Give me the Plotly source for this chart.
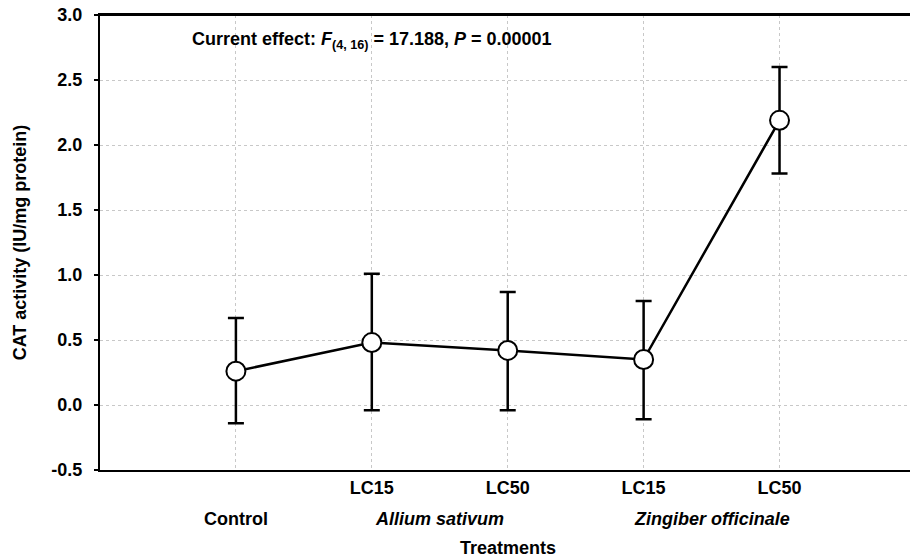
import plotly.graph_objects as go

positions = [1, 2, 3, 4, 5]
dose_positions = [2, 3, 4, 5]
dose_labels = ["LC15", "LC50", "LC15", "LC50"]
group_labels = ["Control", "<i>Allium sativum</i>", "<i>Zingiber officinale</i>"]
group_centers = [1, 2.5, 4.5]
means = [0.26, 0.48, 0.42, 0.35, 2.19]
upper = [0.67, 1.01, 0.87, 0.80, 2.60]
lower = [-0.14, -0.04, -0.04, -0.11, 1.78]
y_ticks = [-0.5, 0.0, 0.5, 1.0, 1.5, 2.0, 2.5, 3.0]
y_tick_text = ["-0.5", "0.0", "0.5", "1.0", "1.5", "2.0", "2.5", "3.0"]

err_plus = [u - m for u, m in zip(upper, means)]
err_minus = [m - l for m, l in zip(means, lower)]

FONT = "Liberation Sans, Arial, sans-serif"
GRID = "#c8c8c8"

fig = go.Figure()
fig.add_trace(go.Scatter(
    x=positions, y=means, mode="lines+markers",
    line=dict(color="black", width=2.5),
    marker=dict(symbol="circle", size=19, color="white",
                line=dict(color="black", width=2)),
    error_y=dict(type="data", symmetric=False, array=err_plus,
                 arrayminus=err_minus, color="black", thickness=2.5, width=8),
    showlegend=False,
    cliponaxis=False,
))

fig.update_layout(
    width=910, height=558,
    margin=dict(l=100, r=0, t=15, b=88),
    plot_bgcolor="white", paper_bgcolor="white",
    font=dict(family=FONT, color="black"),
    xaxis=dict(
        range=[0, 5.96], tickvals=dose_positions, ticktext=dose_labels,
        showgrid=True, gridcolor=GRID, griddash="dot", gridwidth=1,
        minor=dict(tickvals=[positions[0]], showgrid=True, gridcolor=GRID,
                   griddash="dot", gridwidth=1, ticks=""),
        showline=True, linecolor="black", linewidth=2, mirror=True,
        ticks="", zeroline=False, automargin=False,
        tickfont=dict(family=FONT, size=18, weight="bold", color="black"),
    ),
    yaxis=dict(
        range=[-0.5, 3.0], tickvals=y_ticks, ticktext=y_tick_text,
        showgrid=True, gridcolor=GRID, griddash="dot", gridwidth=1,
        showline=True, linecolor="black", linewidth=2,
        ticks="outside", ticklen=4, tickwidth=1.5, tickcolor="black",
        ticklabelstandoff=8, ticklabeloverflow="allow",
        zeroline=False, automargin=False,
        tickfont=dict(family=FONT, size=18, weight="bold", color="black"),
        title=dict(text="CAT activity (IU/mg protein)", standoff=20,
                   font=dict(family=FONT, size=18, weight="bold", color="black")),
    ),
)

# top frame line of the plot area
fig.add_shape(type="line", xref="paper", yref="paper", x0=0, x1=1, y0=1, y1=1,
              line=dict(color="black", width=2), layer="above")

for c, lab in zip(group_centers, group_labels):
    fig.add_annotation(x=c, y=-0.107, xref="x", yref="paper", text=lab,
                       showarrow=False, yanchor="middle",
                       font=dict(family=FONT, size=18, weight="bold", color="black"))

fig.add_annotation(x=3, y=-0.171, xref="x", yref="paper", text="Treatments",
                   showarrow=False, yanchor="middle",
                   font=dict(family=FONT, size=18, weight="bold", color="black"))

fig.add_annotation(
    x=0.111, y=0.943, xref="paper", yref="paper", xanchor="left", yanchor="middle",
    text="Current effect: <i>F</i><sub>(4, 16)</sub> = 17.188, <i>P</i> = 0.00001",
    showarrow=False,
    font=dict(family=FONT, size=18, weight="bold", color="black"),
)

fig.write_html("out.html", config={"displayModeBar": False},
               post_script="document.body.style.margin='0';")
